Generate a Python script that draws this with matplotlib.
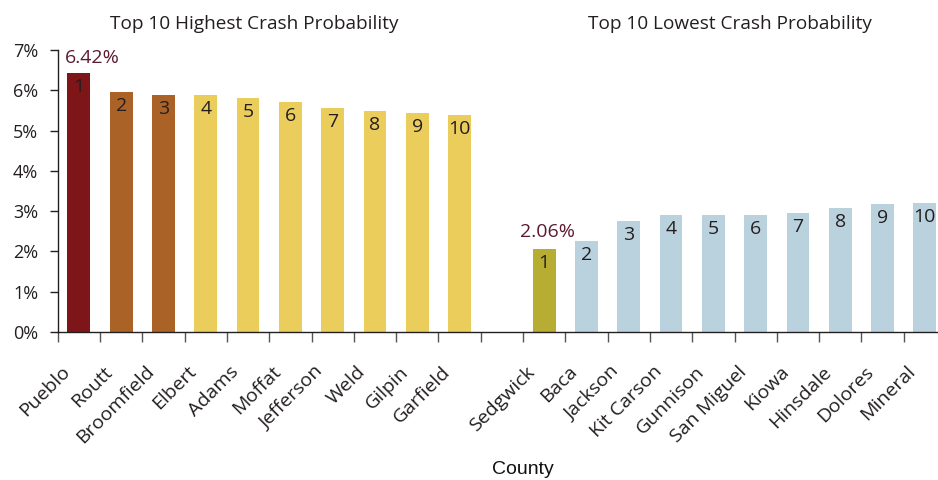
import matplotlib
matplotlib.use("Agg")
import matplotlib.pyplot as plt
from matplotlib.ticker import FuncFormatter
import matplotlib.transforms as mtransforms

# ---- data ----
high_counties = ["Pueblo", "Routt", "Broomfield", "Elbert", "Adams", "Moffat",
                 "Jefferson", "Weld", "Gilpin", "Garfield"]
high_values = [6.42, 5.95, 5.88, 5.88, 5.81, 5.71, 5.56, 5.48, 5.43, 5.38]
low_counties = ["Sedgwick", "Baca", "Jackson", "Kit Carson", "Gunnison",
                "San Miguel", "Kiowa", "Hinsdale", "Dolores", "Mineral"]
low_values = [2.06, 2.27, 2.76, 2.91, 2.91, 2.91, 2.96, 3.08, 3.18, 3.21]
ranks = list(range(1, 11))
yticks = [0, 1, 2, 3, 4, 5, 6, 7]
titles = ["Top 10 Highest Crash Probability", "Top 10 Lowest Crash Probability"]
xlabel = "County"

# ---- style ----
high_colors = ["#7e1519", "#ab6227", "#ab6227"] + ["#ebcd5c"] * 7
low_colors = ["#b8ad33"] + ["#bad2dd"] * 9
FONT = "Open Sans"
TXT = "#231f20"
plt.rcParams["font.family"] = [FONT, "DejaVu Sans"]

fig = plt.figure(figsize=(9.38, 4.80), dpi=100)
W, H = 938, 480
x0, x1 = 57.7, 946.0
ybot, ytop = 332.0, 50.0
ax = fig.add_axes([x0 / W, 1 - ybot / H, (x1 - x0) / W, (ybot - ytop) / H])

n = len(high_values)
pos_high = list(range(n))
pos_low = [n + 1 + i for i in range(len(low_values))]

width = 0.54
ax.bar(pos_high, high_values, width=width, color=high_colors, zorder=2)
ax.bar(pos_low, low_values, width=width, color=low_colors, zorder=2)

ax.set_xlim(-0.5, pos_low[-1] + 0.5)
ax.set_ylim(0, 7)

# rank numbers inside bars
offset_in = mtransforms.offset_copy(ax.transData, fig=fig, x=0, y=-14, units="dots")
for p, v, r in zip(pos_high + pos_low, high_values + low_values, ranks + ranks):
    ax.text(p, v, str(r), transform=offset_in, ha="center", va="center",
            fontsize=14, color=TXT, zorder=3)

# value labels for rank-1 bars
offset_out = mtransforms.offset_copy(ax.transData, fig=fig, x=0, y=15, units="dots")
ax.text(pos_high[0] - width / 2 - 0.05, high_values[0], f"{high_values[0]:.2f}%",
        transform=offset_out, ha="left", va="center", fontsize=14, color="#5c1a2e")
ax.text(pos_low[0] + 0.08, low_values[0], f"{low_values[0]:.2f}%",
        transform=mtransforms.offset_copy(ax.transData, fig=fig, x=0, y=17, units="dots"),
        ha="center", va="center", fontsize=14, color="#5c1a2e")

# axes styling
for s in ["top", "right"]:
    ax.spines[s].set_visible(False)
ax.spines["left"].set_linewidth(1.0)
ax.spines["bottom"].set_linewidth(1.0)
ax.spines["left"].set_color("#231f20")
ax.spines["bottom"].set_color("#231f20")

ax.set_yticks(yticks)
ax.yaxis.set_major_formatter(FuncFormatter(lambda v, _: f"{int(v)}%"))
ax.tick_params(axis="y", length=6, width=1, pad=8, labelsize=13,
               colors="#231f20", labelcolor=TXT)

# x: ticks at slot boundaries, category names as rotated text
centers = pos_high + pos_low
bounds = [c - 0.5 for c in range(pos_low[-1] + 2)]
ax.set_xticks(bounds)
ax.set_xticklabels([])
ax.tick_params(axis="x", which="major", length=7, width=1, colors="#555555")

lab_tr = mtransforms.offset_copy(ax.get_xaxis_transform(), fig=fig,
                                 x=-12, y=-37, units="dots")
for p, name in zip(centers, high_counties + low_counties):
    ax.text(p, 0, name, transform=lab_tr, rotation=45, rotation_mode="anchor",
            ha="right", va="center", fontsize=14, color=TXT, clip_on=False)

fig.text(254 / W, 1 - 24 / H, titles[0], ha="center", va="center",
         fontsize=13.7, color=TXT)
fig.text(729.5 / W, 1 - 24 / H, titles[1], ha="center", va="center",
         fontsize=13.7, color=TXT)
fig.text(523 / W, 1 - 470 / H, xlabel, ha="center", va="center",
         fontsize=14, color="#111111", family=["Liberation Sans", "DejaVu Sans"])

fig.savefig("out.png", dpi=100)
